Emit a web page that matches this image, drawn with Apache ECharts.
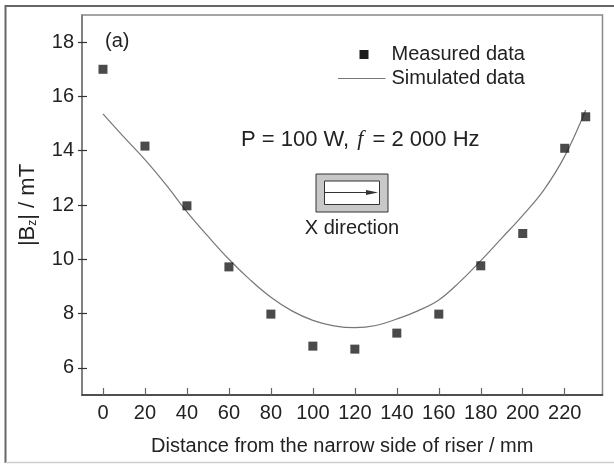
<!DOCTYPE html>
<html>
<head>
<meta charset="utf-8">
<script src="https://cdn.jsdelivr.net/npm/echarts@6/dist/echarts.min.js"></script>
<style>html,body{margin:0;padding:0;background:#fff}#c{width:614px;height:464px}</style>
</head>
<body>
<div id="c"></div>
<script>
// ---- data ----
const measuredX = [0, 20, 40, 60, 80, 100, 120, 140, 160, 180, 200, 220, 230];
const measuredY = [17.0, 14.17, 11.97, 9.72, 7.98, 6.8, 6.69, 7.28, 7.98, 9.76, 10.95, 14.09, 15.25];
const simX = [0, 10, 20, 30, 40, 50, 60, 70, 80, 90, 100, 110, 120, 130, 140, 150, 160, 170, 180, 190, 200, 210, 220, 230];
const simY = [15.36, 14.5, 13.67, 12.75, 11.75, 10.85, 10.0, 9.25, 8.6, 8.1, 7.75, 7.55, 7.48, 7.56, 7.8, 8.1, 8.5, 9.17, 9.95, 10.78, 11.62, 12.55, 13.8, 15.5];
const xTicks = [0, 20, 40, 60, 80, 100, 120, 140, 160, 180, 200, 220];
const yTicks = [6, 8, 10, 12, 14, 16, 18];
const xTitle = 'Distance from the narrow side of riser / mm';
const legendMeasured = 'Measured data';
const legendSimulated = 'Simulated data';

const FONT = 'Liberation Sans, Arial, sans-serif';
const chart = echarts.init(document.getElementById('c'), null, {renderer: 'canvas'});

const measuredData = measuredX.map((x, i) => [x, measuredY[i]]);
const simData = simX.map((x, i) => [x, simY[i]]);

chart.setOption({
  backgroundColor: '#fff',
  animation: false,
  grid: {left: 82, right: 11.5, top: 15, bottom: 69, show: true, borderColor: '#888', borderWidth: 1.5, backgroundColor: 'transparent'},
  xAxis: {
    type: 'value', min: -10, max: 238,
    name: xTitle, nameLocation: 'middle', nameGap: 41,
    nameTextStyle: {fontFamily: FONT, fontSize: 20, color: '#222'},
    axisLine: {show: true, onZero: false, lineStyle: {color: '#333', width: 1.5}},
    axisTick: {show: true, inside: true, length: 7, customValues: xTicks, lineStyle: {color: '#666', width: 1.2}},
    axisLabel: {show: true, margin: 8, customValues: xTicks, fontFamily: FONT, fontSize: 20, color: '#222'},
    splitLine: {show: false}
  },
  yAxis: [{
    type: 'value', min: 5, max: 19,
    name: '|B{sub|z}| / mT', nameLocation: 'middle', nameGap: 43, nameRotate: 90,
    nameTextStyle: {fontFamily: FONT, fontSize: 22, color: '#222', rich: {sub: {fontFamily: FONT, fontSize: 12, color: '#222', padding: [11, 0, 0, 0]}}},
    axisLine: {show: true, onZero: false, lineStyle: {color: '#777', width: 1.5}},
    axisTick: {show: true, inside: false, length: 4, customValues: yTicks, lineStyle: {color: '#333', width: 1.2}},
    axisLabel: {show: true, margin: 8, customValues: yTicks, fontFamily: FONT, fontSize: 20, color: '#222'},
    splitLine: {show: false}
  }, {
    type: 'value', min: 5, max: 19, position: 'left',
    axisLine: {show: false, onZero: false},
    axisTick: {show: true, inside: true, length: 5, customValues: yTicks, lineStyle: {color: '#333', width: 1.2}},
    axisLabel: {show: false},
    splitLine: {show: false}
  }],
  series: [{
    name: legendSimulated, type: 'line', data: simData, smooth: 0.4, showSymbol: false,
    lineStyle: {color: '#777', width: 1.2}, z: 2
  }, {
    name: legendMeasured, type: 'scatter', data: measuredData, symbol: 'rect', symbolSize: 9,
    itemStyle: {color: '#1e1c1d'}, z: 3
  }],
  graphic: [
    {type: 'polyline', shape: {points: [[5.5, 463], [5.5, 6], [614, 6]]}, style: {stroke: '#666', lineWidth: 2, fill: null}, silent: true},
    {type: 'line', shape: {x1: 5.5, y1: 462.5, x2: 614, y2: 462.5}, style: {stroke: '#d0d0d0', lineWidth: 1.5}, silent: true},
    {type: 'text', left: 105, top: 31, style: {text: '(a)', font: '20px ' + FONT, fill: '#222'}},
    {type: 'rect', shape: {x: 359.5, y: 50, width: 9, height: 9}, style: {fill: '#1e1c1d'}},
    {type: 'text', x: 391.5, y: 54.5, style: {text: legendMeasured, font: '20px ' + FONT, fill: '#222', textVerticalAlign: 'middle'}},
    {type: 'line', shape: {x1: 338, y1: 78.5, x2: 385.5, y2: 78.5}, style: {stroke: '#777', lineWidth: 1.2}},
    {type: 'text', x: 391.5, y: 78.5, style: {text: legendSimulated, font: '20px ' + FONT, fill: '#222', textVerticalAlign: 'middle'}},
    {type: 'text', x: 241, y: 139.5, style: {
      text: 'P = 100 W, {it|f} = 2 000 Hz',
      font: '22px ' + FONT, fill: '#222', textVerticalAlign: 'middle',
      rich: {it: {fontFamily: 'Liberation Serif, Times New Roman, serif', fontStyle: 'italic', fontSize: 22, fill: '#222', padding: [0, 3, 0, 2]}}
    }},
    {type: 'rect', shape: {x: 316, y: 174, width: 72, height: 38}, style: {fill: '#c8c8c8', stroke: '#333', lineWidth: 1}},
    {type: 'rect', shape: {x: 324.5, y: 181, width: 55, height: 23.5}, style: {fill: '#fff', stroke: '#333', lineWidth: 1}},
    {type: 'line', shape: {x1: 324.5, y1: 192.5, x2: 370, y2: 192.5}, style: {stroke: '#333', lineWidth: 1}},
    {type: 'polygon', shape: {points: [[366, 190], [378, 192.5], [366, 195]]}, style: {fill: '#333'}},
    {type: 'text', x: 352, y: 228.5, style: {text: 'X direction', font: '20px ' + FONT, fill: '#222', textAlign: 'center', textVerticalAlign: 'middle'}}
  ]
});
</script>
</body>
</html>
